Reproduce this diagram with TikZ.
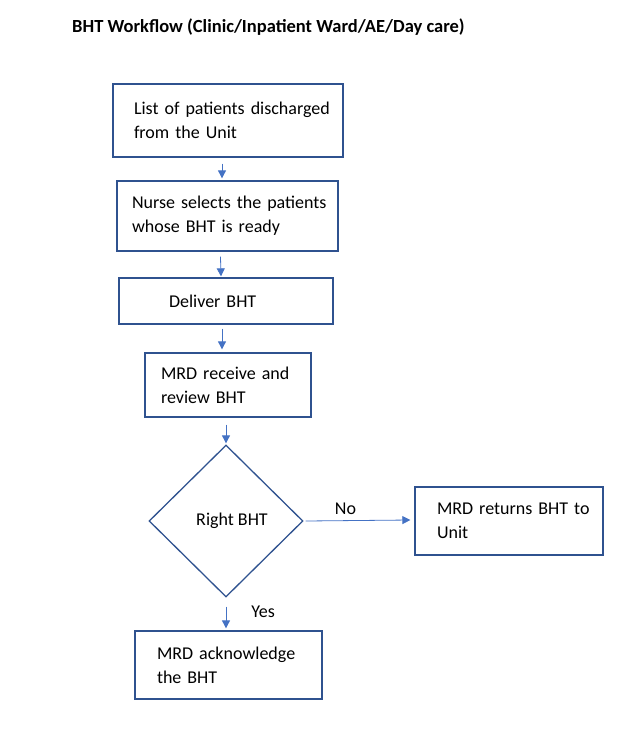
\documentclass[tikz,border=0pt]{standalone}
\usepackage{fontspec}
\setmainfont{Carlito}
\usetikzlibrary{shapes.geometric,arrows.meta}
\definecolor{boxblue}{HTML}{2F528F}
\definecolor{arrblue}{HTML}{4472C4}
\newcommand\ind[1]{\hspace*{#1}}
\begin{document}
\begin{tikzpicture}[x=1pt,y=-1pt,
  every node/.style={font=\fontsize{18}{24}\selectfont},
  stepbox/.style={draw=boxblue,line width=1.3pt,rectangle,align=left,inner ysep=0pt,inner xsep=3pt},
  decision/.style={draw=boxblue,line width=1.3pt,diamond,inner sep=0pt,minimum width=154pt,minimum height=152pt},
  arr/.style={draw=arrblue,line width=0.8pt,-{Triangle[length=8pt,width=8pt]}},
  lbl/.style={inner sep=0pt}]
\useasboundingbox (0,0) rectangle (617,732);
\node[lbl,anchor=west,font=\fontsize{18.5}{22}\selectfont\bfseries] (title) at (72,27) {BHT Workflow (Clinic/Inpatient Ward/AE/Day care)};
\node[stepbox,text width=224pt,minimum height=73pt] (b1) at (228,120.5) {\ind{18pt}List of patients discharged\\\ind{18pt}from the Unit};
\node[stepbox,text width=215pt,minimum height=70pt] (b2) at (227.5,216) {\ind{12pt}Nurse selects the patients\\\ind{12pt}whose BHT is ready};
\node[stepbox,text width=208pt,minimum height=46pt] (b3) at (226,301) {\ind{47pt}Deliver BHT};
\node[stepbox,text width=160pt,minimum height=64pt] (b4) at (228,385) {\ind{13pt}MRD receive and\\\ind{13pt}review BHT};
\node[decision] (d) at (226,521) {\hspace*{12pt}Right BHT};
\node[stepbox,text width=182pt,minimum height=68pt] (b5) at (509,521) {\ind{19pt}MRD returns BHT to\\\ind{19pt}Unit};
\node[stepbox,text width=181pt,minimum height=68pt] (b6) at (228.5,665) {\ind{19pt}MRD acknowledge\\\ind{19pt}the BHT};
\draw[arr] ([xshift=-6pt,yshift=-6pt]b1.south) -- ([xshift=-5.5pt,yshift=2pt]b2.north);
\draw[arr] ([xshift=-7pt,yshift=-5pt]b2.south) -- ([xshift=-5pt,yshift=1pt]b3.north);
\draw[arr] ([xshift=-4pt,yshift=-4pt]b3.south) -- ([xshift=-6pt,yshift=3pt]b4.north);
\draw[arr] ([xshift=-2pt,yshift=-7pt]b4.south) -- ([yshift=1pt]d.north);
\draw[arr] ([xshift=2pt]d.east) -- ([xshift=-4pt,yshift=1pt]b5.west) node[lbl,pos=0.38,above=6pt] (no) {No};
\draw[arr] ([yshift=-9pt]d.south) -- ([xshift=-2.5pt,yshift=2pt]b6.north) node[lbl,pos=0.25,right=25pt] (yes) {Yes};
\end{tikzpicture}
\end{document}
